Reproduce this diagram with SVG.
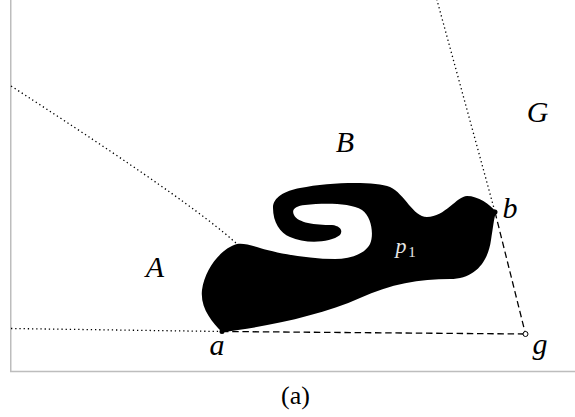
<svg xmlns="http://www.w3.org/2000/svg" width="575" height="417" viewBox="0 0 575 417">
  <style>
    .frame { fill: none; stroke: #bdbdbd; stroke-width: 1.5; }
    .dot { fill: none; stroke: #000; stroke-width: 1.3; stroke-dasharray: 1.3 2.9; }
    .dash { fill: none; stroke: #000; stroke-width: 1.3; stroke-dasharray: 6.5 3.7; }
    .lbl { font-family: 'Liberation Serif', 'DejaVu Serif', serif; font-style: italic; font-size: 30px; fill: #000; text-anchor: middle; }
    .cap { font-family: 'Liberation Serif', 'DejaVu Serif', serif; font-size: 26px; fill: #000; text-anchor: middle; }
    .inner { font-family: 'Liberation Serif', 'DejaVu Serif', serif; fill: #e6e6e6; text-anchor: middle; }
  </style>
  <rect width="575" height="417" fill="#fff"/>
  <g id="frame">
    <path class="frame" d="M10.75,0 V371.5 H575"/>
  </g>
  <g id="connectors">
    <path class="dot" d="M11,86 Q194,204 237,244"/>
    <path class="dot" d="M11,328.5 L222,331.5"/>
    <path class="dot" d="M435.6,-5 L495,212"/>
    <path class="dash" d="M222,331.5 L525.5,334"/>
    <path class="dash" d="M495,212 L525.5,334"/>
  </g>
  <g id="p1">
    <path fill="#000" d="M222,332 C260,328 320,316 360,298 C390,284 420,279 450,279 C475,279 488,262 491,240 C493,228 494,218 496,212 C490,204 478,196 467,196 C457,196 445,217 427,217 C413,217 405,194 390,187 C375,181 330,182 300,188 C285,191 273,197 273,208 C273,222 280,233 290,237 C305,244 330,243 340,235 C343,231 341,226 332,225 C315,225 298,223 294,215 C291,209 296,206 305,205 C325,203 350,203 362,210 C372,217 374,235 370,244 C365,254 350,259 335,259 C310,259 280,254 260,248 C250,245 243,243 237,244 C222,248 205,268 202,290 C200,308 212,322 222,332 Z"/>
    <text class="inner" x="401" y="253" font-style="italic" font-size="22">p</text>
    <text class="inner" x="412" y="257" font-size="15">1</text>
  </g>
  <g id="point-a">
    <circle cx="222" cy="331.5" r="2.5" fill="#000"/>
    <text class="lbl" x="217" y="355">a</text>
  </g>
  <g id="point-b">
    <circle cx="495" cy="212" r="2.5" fill="#000"/>
    <text class="lbl" x="510" y="218">b</text>
  </g>
  <g id="point-g">
    <circle cx="525.5" cy="334" r="2.5" fill="#fff" stroke="#000" stroke-width="1"/>
    <text class="lbl" x="540" y="354">g</text>
  </g>
  <g id="region-A"><text class="lbl" x="155" y="277">A</text></g>
  <g id="region-B"><text class="lbl" x="345" y="152">B</text></g>
  <g id="region-G"><text class="lbl" x="537.5" y="122">G</text></g>
  <g id="caption"><text class="cap" x="295.5" y="404">(a)</text></g>
</svg>
